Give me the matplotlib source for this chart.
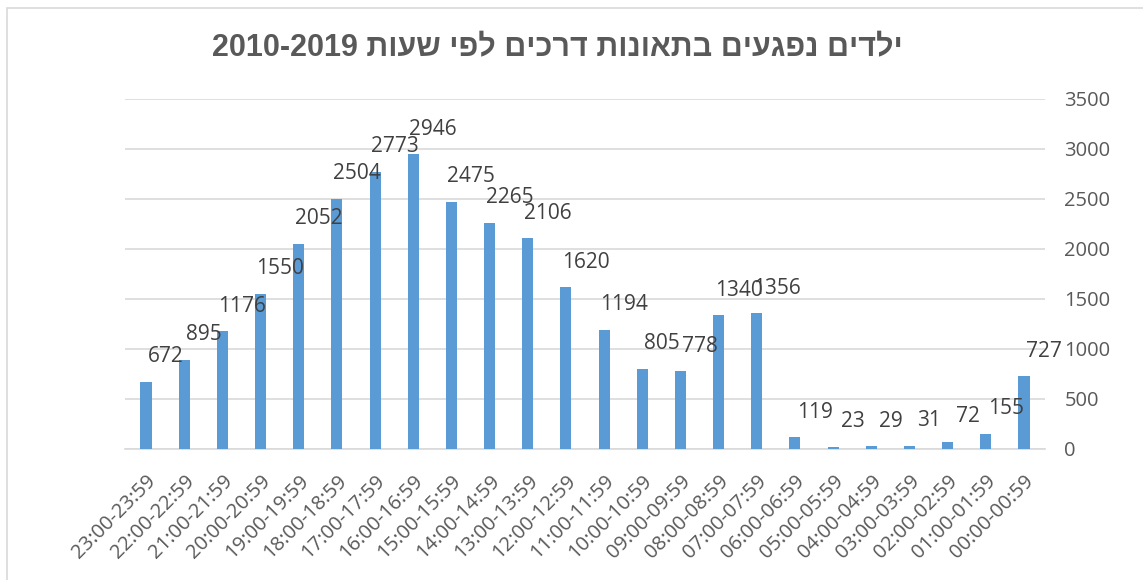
import matplotlib
matplotlib.use('Agg')
import matplotlib.pyplot as plt
from matplotlib.patches import Rectangle

plt.rcParams['font.family'] = ['Open Sans', 'DejaVu Sans']

# data, left to right as in the original (hours shown in reverse order)
hours = ['23:00-23:59', '22:00-22:59', '21:00-21:59', '20:00-20:59',
         '19:00-19:59', '18:00-18:59', '17:00-17:59', '16:00-16:59',
         '15:00-15:59', '14:00-14:59', '13:00-13:59', '12:00-12:59',
         '11:00-11:59', '10:00-10:59', '09:00-09:59', '08:00-08:59',
         '07:00-07:59', '06:00-06:59', '05:00-05:59', '04:00-04:59',
         '03:00-03:59', '02:00-02:59', '01:00-01:59', '00:00-00:59']
injured = [672, 895, 1176, 1550, 2052, 2504, 2773, 2946, 2475, 2265, 2106, 1620,
           1194, 805, 778, 1340, 1356, 119, 23, 29, 31, 72, 155, 727]
y_ticks = [0, 500, 1000, 1500, 2000, 2500, 3000, 3500]

title_he = 'ילדים נפגעים בתאונות דרכים לפי שעות'
title_years = '2010-2019'

BAR = '#5B9BD5'
GRID = '#D9D9D9'
TICK = '#595959'
LABEL = '#404040'


def visual(he, tail):
    # matplotlib has no bidi: put the RTL words in display order by hand
    return tail + ' ' + he[::-1]


W, H = 1143, 580
fig = plt.figure(figsize=(W / 100, H / 100), dpi=100)
fig.patch.set_facecolor('white')

# chart frame (only left/top edges visible in the crop)
fig.patches.append(Rectangle((7 / W, -0.1), 1.2, 1.1 - 8 / H,
                             transform=fig.transFigure, fill=False,
                             edgecolor=GRID, linewidth=1.2))

ax = fig.add_axes([125 / W, 1 - 449 / H, 920 / W, 350 / H])
x = list(range(len(hours)))
ax.bar(x, injured, width=0.29, color=BAR, zorder=3)

ax.set_xlim(-0.55, len(hours) - 0.45)
ax.set_ylim(0, 3500)
ax.set_yticks(y_ticks)
ax.yaxis.tick_right()
ax.tick_params(axis='y', length=0, pad=14, labelsize=14.5, labelcolor=TICK)
ax.set_xticks(x)
ax.set_xticklabels(hours, rotation=45, ha='right', rotation_mode='anchor')
ax.tick_params(axis='x', length=0, pad=16, labelsize=14.5, labelcolor=TICK)
ax.grid(axis='y', color=GRID, linewidth=1.2, zorder=0)
for s in ['top', 'left', 'right']:
    ax.spines[s].set_visible(False)
ax.spines['bottom'].set_color(GRID)
ax.spines['bottom'].set_linewidth(1.2)

for i, v in enumerate(injured):
    ax.annotate(str(v), xy=(i + 0.52, v), xytext=(0, 18),
                textcoords='offset points', ha='center', va='center',
                fontsize=15, color=LABEL, zorder=4)

fig.text(557 / W, 1 - 48 / H, visual(title_he, title_years),
         ha='center', va='center', fontsize=22, fontweight='bold',
         color=TICK, family=['Liberation Sans', 'DejaVu Sans'])

fig.savefig('out.png', dpi=100, facecolor='white')
